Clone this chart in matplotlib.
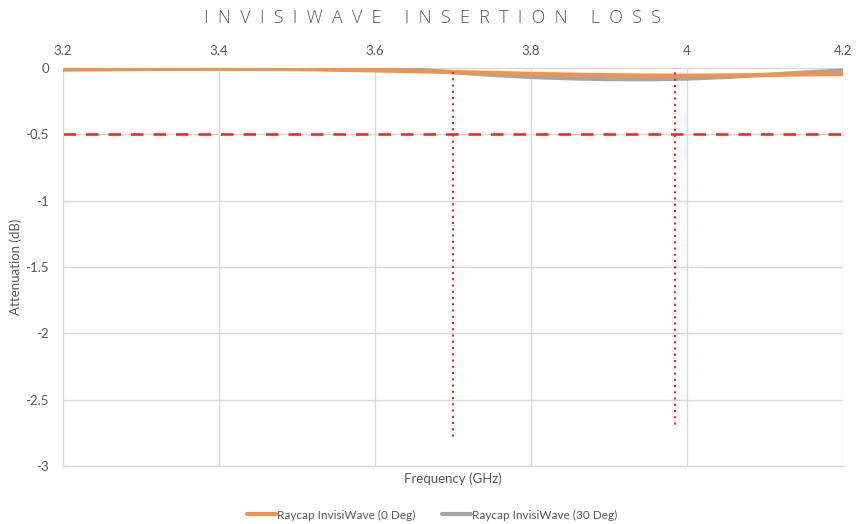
import matplotlib
matplotlib.use("Agg")
import matplotlib.pyplot as plt

freq = [3.2, 3.3, 3.4, 3.5, 3.6, 3.65, 3.7, 3.75, 3.8, 3.85, 3.9, 3.95, 4.0, 4.05, 4.1, 4.15, 4.2]
loss_0deg = [-0.01, -0.007, -0.005, -0.008, -0.018, -0.024, -0.03, -0.037, -0.044, -0.05, -0.054, -0.057, -0.058, -0.056, -0.052, -0.048, -0.045]
loss_30deg = [-0.01, -0.007, -0.005, -0.006, -0.006, -0.012, -0.032, -0.052, -0.068, -0.078, -0.084, -0.085, -0.08, -0.068, -0.052, -0.034, -0.018]
limit_db = -0.5
marker_freqs = [3.7, 3.985]
marker_tops = [-0.03, 0.06]
marker_bottoms = [-2.78, -2.69]
xticks = [3.2, 3.4, 3.6, 3.8, 4.0, 4.2]
xticklabels = ["3.2", "3.4", "3.6", "3.8", "4", "4.2"]
yticks = [0, -0.5, -1, -1.5, -2, -2.5, -3]
yticklabels = ["0", "-0.5", "-1", "-1.5", "-2", "-2.5", "-3"]

plt.rcParams['font.family'] = ['Lato', 'DejaVu Sans']

fig = plt.figure(figsize=(8.64, 5.24), dpi=100)
ax = fig.add_axes([0.0729, 0.1107, 0.9028, 0.7595])

ax.plot(freq, loss_30deg, color="#A5A5A5", lw=3, solid_capstyle="round", zorder=3,
        label="Raycap InvisiWave (30 Deg)")
ax.plot(freq, loss_0deg, color="#F4914A", lw=3, solid_capstyle="round", zorder=4,
        label="Raycap InvisiWave (0 Deg)")
ax.axhline(limit_db, color="#FF1A1A", lw=1.8, ls=(0, (5, 4)), zorder=2)
for f, t, b in zip(marker_freqs, marker_tops, marker_bottoms):
    ax.plot([f, f], [t, b], color="#FF1A1A", lw=1.5, ls=(0, (1, 2)), zorder=5)

ax.set_xlim(3.2, 4.2)
ax.set_ylim(-3, 0)
ax.set_xticks(xticks)
ax.set_xticklabels(xticklabels)
ax.set_yticks(yticks)
ax.set_yticklabels(yticklabels)
ax.xaxis.tick_top()
ax.tick_params(axis="both", length=0, colors="#595959", labelsize=9.5)
ax.tick_params(axis="x", pad=8)
ax.tick_params(axis="y", pad=10)
ax.grid(True, color="#D9D9D9", lw=1)
ax.set_axisbelow(True)
for s in ["top", "right", "bottom"]:
    ax.spines[s].set_visible(False)
ax.spines["left"].set_color("#D9D9D9")
ax.axhline(-3, color="#D9D9D9", lw=1, zorder=1, clip_on=False)

ax.set_xlabel("Frequency (GHz)", color="#595959", fontsize=9.5)
ax.xaxis.set_label_position("bottom")
ax.xaxis.labelpad = 5
ax.set_ylabel("Attenuation (dB)", color="#595959", fontsize=9.5)
ax.yaxis.set_label_coords(-0.052, 0.5)

fig.text(0.5, 0.965, "  ".join("INVISIWAVE") + "     " + "  ".join("INSERTION") + "     " + "  ".join("LOSS"),
         ha="center", va="center", fontsize=13, color="#595959", family=["Open Sans", "DejaVu Sans"],
         fontweight="light")

h, l = ax.get_legend_handles_labels()
fig.legend(h[::-1], l[::-1], loc="center", bbox_to_anchor=(0.5, 0.017), ncol=2, frameon=False,
           fontsize=8.5, labelcolor="#595959", handlelength=2.5, columnspacing=2.2, handletextpad=0.1)

fig.savefig("out.png", dpi=100)
